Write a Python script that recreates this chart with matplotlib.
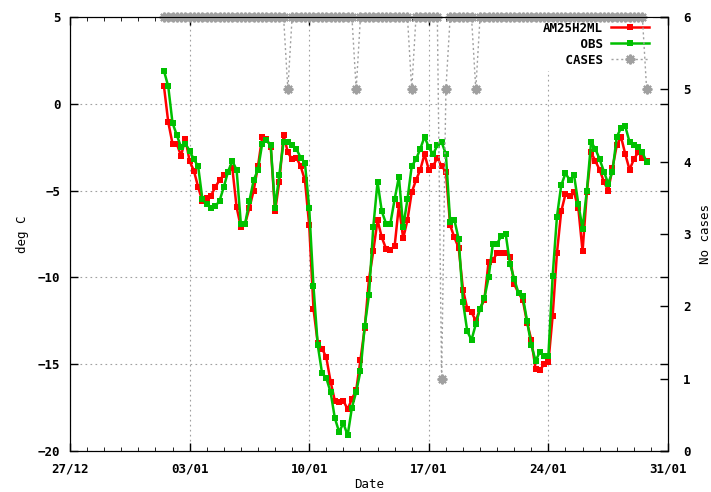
import matplotlib
matplotlib.use("Agg")
import matplotlib.pyplot as plt
import matplotlib.dates as mdates
import pandas as pd

# 6-hourly series starting 01/01 12:00
start = "2010-01-01 12:00"

am25h2ml = [1.0, -1.05, -2.3, -2.3, -3.0, -2.0, -3.3, -3.85, -4.8, -5.6,
            -5.4, -5.3, -4.8, -4.4, -4.1, -3.9, -3.7, -5.95, -7.1, -6.9,
            -6.0, -5.0, -3.6, -1.9, -2.0, -2.5, -6.2, -4.5, -1.8, -2.8,
            -3.2, -3.1, -3.6, -4.4, -7.0, -11.8, -13.8, -14.1, -14.6, -16.0,
            -17.1, -17.2, -17.1, -17.6, -17.0, -16.5, -14.75, -12.9, -10.1, -8.5,
            -6.7, -7.7, -8.35, -8.4, -8.2, -5.85, -7.75, -6.7, -5.1, -4.4,
            -3.8, -2.9, -3.8, -3.6, -3.1, -3.6, -3.9, -7.0, -7.7, -8.3,
            -10.7, -11.8, -12.0, -12.5, -11.8, -11.3, -9.1, -9.0, -8.6, -8.6,
            -8.6, -8.8, -10.4, -10.9, -11.3, -12.6, -13.6, -15.3, -15.35, -15.0,
            -14.9, -12.2, -8.6, -6.2, -5.2, -5.3, -5.1, -6.0, -8.5, -5.1,
            -2.8, -3.3, -3.8, -4.5, -5.0, -3.7, -2.4, -1.9, -2.9, -3.8,
            -3.2, -2.8, -3.1, -3.3]

obs = [1.9, 1.0, -1.1, -1.8, -2.5, -2.3, -2.7, -3.2, -3.6, -5.5,
       -5.8, -6.0, -5.9, -5.6, -4.8, -3.9, -3.3, -3.8, -6.9, -6.9,
       -5.6, -4.4, -3.8, -2.3, -2.1, -2.4, -6.0, -4.1, -2.2, -2.2,
       -2.4, -2.6, -3.1, -3.4, -6.0, -10.5, -13.9, -15.5, -15.8, -16.6,
       -18.1, -18.9, -18.4, -19.1, -17.5, -16.6, -15.4, -12.8, -11.0, -7.1,
       -4.5, -6.2, -6.9, -6.9, -5.5, -4.2, -7.1, -5.5, -3.6, -3.2,
       -2.6, -1.9, -2.5, -2.9, -2.4, -2.2, -2.9, -6.8, -6.7, -7.8,
       -11.4, -13.1, -13.6, -12.7, -11.8, -11.2, -10.0, -8.05, -8.05, -7.6,
       -7.5, -9.2, -10.1, -10.9, -11.1, -12.5, -13.9, -14.8, -14.3, -14.5,
       -14.5, -9.9, -6.5, -4.7, -4.0, -4.4, -4.1, -5.75, -7.2, -5.0,
       -2.2, -2.6, -3.2, -3.9, -4.6, -3.9, -1.9, -1.4, -1.3, -2.2,
       -2.4, -2.5, -2.8, -3.35]

cases = [6, 6, 6, 6, 6, 6, 6, 6, 6, 6,
         6, 6, 6, 6, 6, 6, 6, 6, 6, 6,
         6, 6, 6, 6, 6, 6, 6, 6, 6, 5,
         6, 6, 6, 6, 6, 6, 6, 6, 6, 6,
         6, 6, 6, 6, 6, 5, 6, 6, 6, 6,
         6, 6, 6, 6, 6, 6, 6, 6, 5, 6,
         6, 6, 6, 6, 6, 1, 5, 6, 6, 6,
         6, 6, 6, 5, 6, 6, 6, 6, 6, 6,
         6, 6, 6, 6, 6, 6, 6, 6, 6, 6,
         6, 6, 6, 6, 6, 6, 6, 6, 6, 6,
         6, 6, 6, 6, 6, 6, 6, 6, 6, 6,
         6, 6, 6, 5]

x_start = "2009-12-27"
x_end = "2010-01-31"


def main():
    plt.rcParams["font.family"] = "DejaVu Sans Mono"
    plt.rcParams["font.weight"] = "bold"
    plt.rcParams["font.size"] = 9

    times = pd.date_range(start, periods=len(obs), freq="6h")

    fig = plt.figure(figsize=(7.11, 4.92), dpi=100)
    ax = fig.add_axes([70 / 711, 41 / 492, 598 / 711, 434 / 492])
    ax2 = ax.twinx()

    # temperature lines
    l1, = ax.plot(times, am25h2ml, color="#ff0000", lw=1.8, marker="s",
                  ms=5, mew=0, label="AM25H2ML")
    l2, = ax.plot(times, obs, color="#00c000", lw=1.8, marker="s",
                  ms=5, mew=0, label="OBS")

    # number of cases on the second axis
    l3, = ax2.plot(times, cases, color="#a0a0a0", lw=1, ls=(0, (1.5, 2)),
                   marker=(8, 2, 0), ms=7, mew=1.5, clip_on=False,
                   label="CASES")

    ax.set_xlim(pd.Timestamp(x_start), pd.Timestamp(x_end))
    ax.set_xticks(pd.date_range(x_start, x_end, freq="7D"))
    ax.xaxis.set_major_formatter(mdates.DateFormatter("%d/%m"))
    ax.xaxis.set_minor_locator(mdates.DayLocator())
    ax.set_ylim(-20, 5)
    ax.set_yticks(range(-20, 6, 5))
    ax2.set_ylim(0, 6)
    ax2.set_yticks(range(0, 7))

    ax.grid(True, which="major", color="#a0a0a0", lw=0.8, ls=(0, (1.5, 3)))

    ax.tick_params(direction="in", length=6, width=1, top=True, right=True)
    ax.tick_params(axis="x", which="minor", direction="in", length=3,
                   top=True)
    ax.tick_params(axis="x", pad=8)
    ax.tick_params(axis="y", pad=7)
    ax2.tick_params(direction="in", length=6, width=1, pad=11)

    ax.set_xlabel("Date", labelpad=2)
    ax.set_ylabel("deg C", labelpad=6)
    ax2.set_ylabel("No cases", labelpad=6)

    ax.legend(handles=[l1, l2, l3],
              labels=["AM25H2ML", "     OBS", "   CASES"],
              loc="upper right", bbox_to_anchor=(0.975, 0.998),
              markerfirst=False, numpoints=1, fancybox=False,
              facecolor="white", edgecolor="none", framealpha=1,
              handlelength=3.1, handletextpad=0.6, labelspacing=0.25,
              borderpad=0.3, borderaxespad=0)

    fig.savefig("out.png", dpi=100)


if __name__ == "__main__":
    main()
